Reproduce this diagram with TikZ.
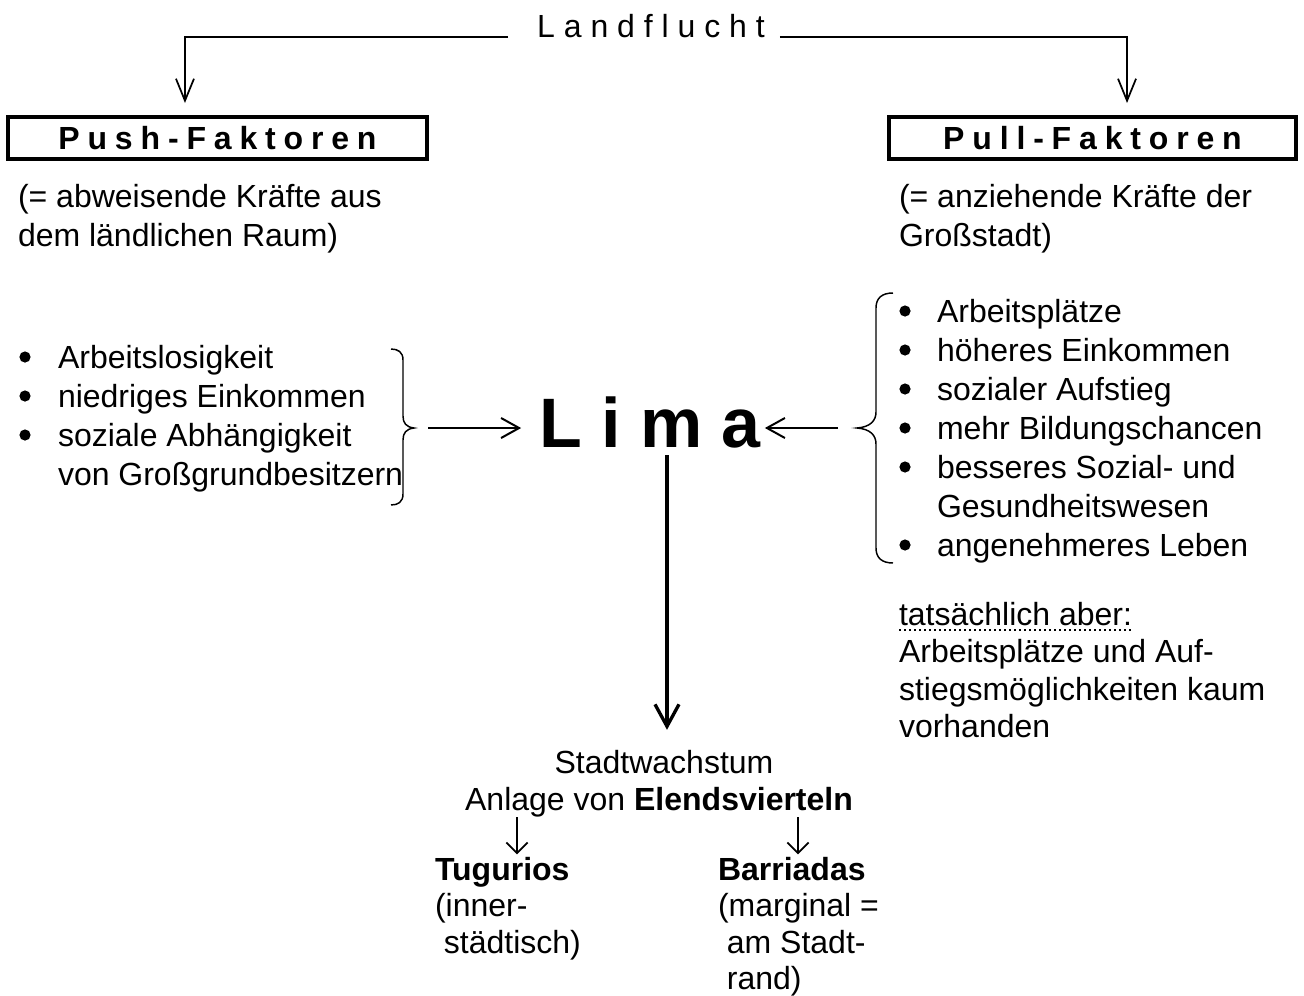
\documentclass[tikz,border=0pt]{standalone}
\usepackage{fontspec}
\setmainfont{Liberation Sans}
\usetikzlibrary{arrows.meta}
\newcommand\bodyfont{\fontsize{24pt}{29.25pt}\selectfont}
\newcommand\tightfont{\fontsize{24pt}{27.375pt}\selectfont}
\newcommand\tatfont{\fontsize{24pt}{28.125pt}\selectfont}
\newcommand\limafont{\fontsize{52.5pt}{60pt}\selectfont\bfseries}
\newcommand\boxfont{\fontsize{24pt}{29.25pt}\selectfont\bfseries\spaceskip=0.245em\relax}
\begin{document}
\begin{tikzpicture}[x=0.75pt,y=-0.75pt,
  txt/.style={inner sep=0pt, outer sep=0pt, font=\bodyfont},
  ttxt/.style={inner sep=0pt, outer sep=0pt, font=\tightfont},
  factorbox/.style={draw, line width=2.6pt, inner sep=0pt, outer sep=0pt,
    minimum height=31.5pt, font=\boxfont},
  bulletdot/.style={fill=black},
  toparr/.style={line width=1.3pt, -{Straight Barb[length=16.5pt,width=13.5pt]}},
  harr/.style={line width=1.5pt, -{Straight Barb[length=13.5pt,width=15pt]}},
  varr/.style={line width=2.5pt, -{Straight Barb[length=16.5pt,width=18pt]}},
  sarr/.style={line width=1.4pt, -{Straight Barb[length=8pt,width=16pt]}},
  bracel/.style={line width=1.1pt},
  dotline/.style={line width=1.5pt, dash pattern=on 1.5pt off 2.25pt}]
\useasboundingbox (0,0) rectangle (1304,996);

% title
\node[txt, anchor=base] (land) at (651,37) {L a n d f l u c h t};

% factor boxes
\node[factorbox, minimum width=314.25pt] (push) at (217.5,138) {P u s h - F a k t o r e n};
\node[factorbox, minimum width=305.25pt] (pull) at (1092.5,138) {P u l l - F a k t o r e n};

\draw[toparr, shorten >=10.5pt] ([xshift=-21.75pt]land.base west) -| ([xshift=-24.4pt]push.north);
\draw[toparr, shorten >=10.5pt] ([xshift=11.25pt]land.base east) -| ([xshift=25.9pt]pull.north);

% explanations
\node[txt, anchor=base west] (pushexp) at (18,207)
  {\begin{tabular}[t]{@{}l@{}}(= abweisende Kräfte aus\\dem ländlichen Raum)\end{tabular}};
\node[txt, anchor=base west] (pullexp) at (899,207)
  {\begin{tabular}[t]{@{}l@{}}(= anziehende Kräfte der\\Großstadt)\end{tabular}};

% push list
\node[txt, anchor=base west] (pushlist) at (58,368)
  {\begin{tabular}[t]{@{}l@{}}
    Arbeitslosigkeit\\
    niedriges Einkommen\\
    soziale Abhängigkeit\\
    von Großgrundbesitzern
   \end{tabular}};
\foreach \yy in {357,396,435}
  \fill[bulletdot] (25,\yy) circle[radius=4.2pt];

% pull list
\node[txt, anchor=base west] (pulllist) at (937,322)
  {\begin{tabular}[t]{@{}l@{}}
    Arbeitsplätze\\
    höheres Einkommen\\
    sozialer Aufstieg\\
    mehr Bildungschancen\\
    besseres Sozial- und\\
    Gesundheitswesen\\
    angenehmeres Leben
   \end{tabular}};
\foreach \yy in {311,350,389,428,467,545}
  \fill[bulletdot] (905,\yy) circle[radius=4.2pt];

% braces
\draw[bracel] (391,349) .. controls (398,349) and (403,352) .. (403,360) -- (403,416)
  .. controls (403,423) and (406,427) .. (414,428)
  .. controls (406,429) and (403,433) .. (403,440) -- (403,494)
  .. controls (403,502) and (398,505) .. (391,505);
\coordinate (lbt) at (414,428);
\draw[bracel] (893,293) .. controls (882,293) and (876,298) .. (876,308) -- (876,412)
  .. controls (876,421) and (870,427) .. (857,428)
  .. controls (870,429) and (876,435) .. (876,444) -- (876,548)
  .. controls (876,558) and (882,563) .. (893,563);
\coordinate (rbt) at (857,428);

% Lima
\node[inner sep=0pt, outer sep=0pt, font=\limafont, anchor=base] (lima) at (650,447) {L i m a};

\draw[harr, shorten <=10.5pt, shorten >=13.5pt] (lbt) -- (lbt -| lima.west);
\draw[harr, shorten <=14.25pt, shorten >=3pt] (rbt) -- (rbt -| lima.east);

% tatsächlich aber
\node[txt, anchor=base west, font=\tatfont] (tat) at (899,625)
  {\begin{tabular}[t]{@{}l@{}}tatsächlich aber:\\Arbeitsplätze und Auf-\\stiegsmöglichkeiten kaum\\vorhanden\end{tabular}};
\draw[dotline] ([yshift=-3.75pt]tat.base west) -- ++(233,0);

% bottom
\node[txt, anchor=base] (stadt) at (664,773) {Stadtwachstum};
\node[txt, anchor=base] (anlage) at (659,810) {Anlage von \textbf{Elendsvierteln}};
\draw[varr, shorten <=6pt, shorten >=15pt] ([xshift=12.75pt]lima.base) -- ([xshift=12.75pt]lima.base |- stadt.north);

\node[ttxt, anchor=base west] (tug) at (435,880)
  {\begin{tabular}[t]{@{}l@{}}\textbf{Tugurios}\\(inner-\\\ städtisch)\end{tabular}};
\node[ttxt, anchor=base west] (barr) at (718,880)
  {\begin{tabular}[t]{@{}l@{}}\textbf{Barriadas}\\(marginal =\\\ am Stadt-\\\ rand)\end{tabular}};

\coordinate (t1) at (517,817);
\coordinate (t2) at (798,817);
\draw[sarr] (t1) -- (t1 |- tug.north);
\draw[sarr] (t2) -- (t2 |- barr.north);
\end{tikzpicture}
\end{document}
